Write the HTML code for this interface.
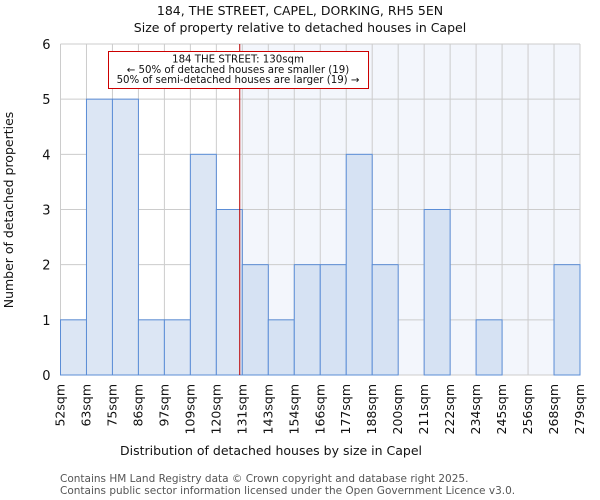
<!DOCTYPE html>
<html><head><meta charset="utf-8"><style>
body{margin:0;background:#fff}
svg{display:block;font-family:"DejaVu Sans","Liberation Sans",sans-serif}
</style></head><body>
<svg id="chart" width="600" height="500" viewBox="0 0 600 500">
<text x="300" y="15" text-anchor="middle" font-size="12.5" fill="#111">184, THE STREET, CAPEL, DORKING, RH5 5EN</text>
<text x="300" y="32" text-anchor="middle" font-size="12.5" fill="#111">Size of property relative to detached houses in Capel</text>
<g id="plot"></g>
<text x="271" y="455" text-anchor="middle" font-size="12.5" fill="#111">Distribution of detached houses by size in Capel</text>
<text transform="translate(13,210) rotate(-90)" text-anchor="middle" font-size="12.5" fill="#111">Number of detached properties</text>
<text x="60" y="482" font-size="10.5" fill="#555">Contains HM Land Registry data © Crown copyright and database right 2025.</text>
<text x="60" y="494" font-size="10.5" fill="#555">Contains public sector information licensed under the Open Government Licence v3.0.</text>
</svg>
<script>
const binLabels=["52sqm","63sqm","75sqm","86sqm","97sqm","109sqm","120sqm","131sqm","143sqm","154sqm","166sqm","177sqm","188sqm","200sqm","211sqm","222sqm","234sqm","245sqm","256sqm","268sqm","279sqm"];
const counts=[1,5,5,1,1,4,3,2,1,2,2,4,2,0,3,0,1,0,0,2];
const yTicks=[0,1,2,3,4,5,6];
const propertyBinPos=6.9;
const NS="http://www.w3.org/2000/svg";
const X0=60.5,X1=580,Y0=375,Y1=44,YMAX=6;
const n=counts.length;
const xs=i=>X0+(X1-X0)*i/n;
const ys=v=>Y0-(Y0-Y1)*v/YMAX;
const g=document.getElementById('plot');
function mk(t,a){const e=document.createElementNS(NS,t);for(const k in a)e.setAttribute(k,a[k]);g.appendChild(e);return e;}
const lx=xs(propertyBinPos);
let e=mk('rect',{x:lx,y:Y1,width:X1-lx,height:Y0-Y1,fill:'#f3f6fc'});


for(let i=0;i<=n;i++){e=mk('line',{x1:xs(i),x2:xs(i),y1:Y1,y2:Y0,stroke:'#ccc','stroke-width':1});

}
yTicks.forEach(t=>{e=mk('line',{x1:X0,x2:X1,y1:ys(t),y2:ys(t),stroke:'#ccc','stroke-width':1});


e=mk('text',{x:X0-10,y:ys(t)+5,'text-anchor':'end','font-size':13,fill:'#111'});e.textContent=t;

});
counts.forEach((c,i)=>{if(c<=0)return;
e=mk('rect',{x:xs(i),y:ys(c),width:xs(i+1)-xs(i),height:Y0-ys(c),fill:i>=7?'#d6e2f3':'#dce6f4',stroke:'#5b8dd6','stroke-width':1});

});
binLabels.forEach((l,i)=>{const x=xs(i)+4;
e=mk('text',{transform:`translate(${x},384) rotate(-90)`,'text-anchor':'end','font-size':12.5,fill:'#111'});e.textContent=l;

});
e=mk('line',{x1:lx,x2:lx,y1:Y1,y2:Y0,stroke:'#b00',"stroke-width":1});


e=mk('rect',{x:108.5,y:51.5,width:260,height:37,fill:'#fff',stroke:'#c00','stroke-width':1});


["184 THE STREET: 130sqm","← 50% of detached houses are smaller (19)","50% of semi-detached houses are larger (19) →"].forEach((t,k)=>{
e=mk('text',{x:238,y:62.5+k*10.3,'text-anchor':'middle','font-size':10.2,fill:'#111'});e.textContent=t;

});
</script>
</body></html>
